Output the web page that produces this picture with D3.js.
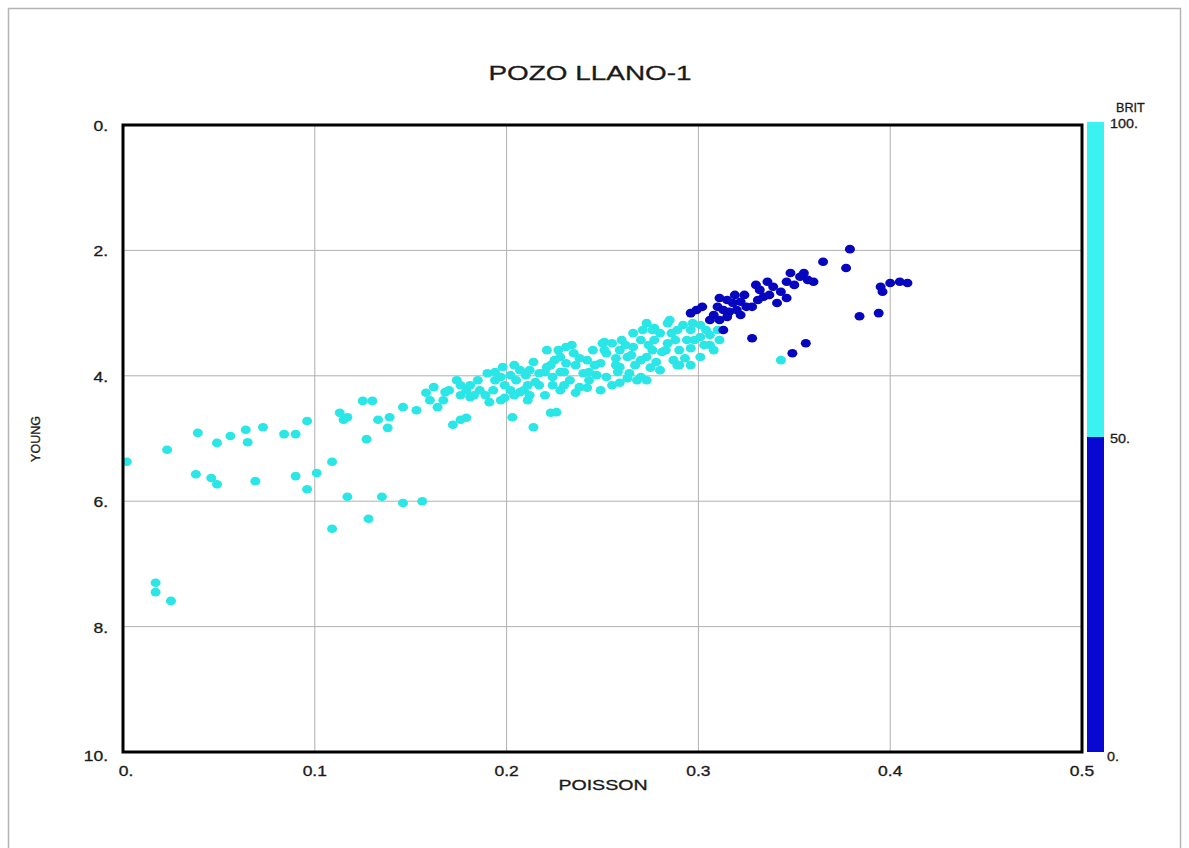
<!DOCTYPE html>
<html><head><meta charset="utf-8">
<script src="https://cdn.jsdelivr.net/npm/d3@7"></script>
<style>body{margin:0;background:#fff;}svg{display:block;font-family:"Liberation Sans",Arial,sans-serif;}</style>
</head><body>
<svg id="c" width="1189" height="848"></svg>
<script>
const title = "POZO LLANO-1";
const xLabel = "POISSON";
const yLabel = "YOUNG";
const colorLabel = "BRIT";
const xTicks = [0, 0.1, 0.2, 0.3, 0.4, 0.5];
const xTickLabels = ["0.", "0.1", "0.2", "0.3", "0.4", "0.5"];
const yTicks = [0, 2, 4, 6, 8, 10];
const yTickLabels = ["0.", "2.", "4.", "6.", "8.", "10."];
const britTicks = [0, 50, 100];
const britTickLabels = ["0.", "50.", "100."];
const britBins = [50];
const britColors = ["#0606bf", "#2ae6e6"];
const barColors = ["#0808d2", "#3af2f2"];

// [POISSON, YOUNG, BRIT]
const highBrit = [
 [0.002,5.37,75],[0.023,5.18,75],[0.039,4.91,75],[0.049,5.07,75],[0.056,4.96,75],[0.064,4.86,75],
 [0.065,5.06,75],[0.073,4.82,75],[0.084,4.93,75],[0.090,4.93,75],[0.096,4.72,75],[0.113,4.59,75],
 [0.115,4.70,75],[0.117,4.66,75],[0.125,4.40,75],[0.130,4.40,75],[0.133,4.70,75],[0.139,4.66,75],
 [0.138,4.83,75],[0.127,5.01,75],[0.038,5.57,75],[0.046,5.63,75],[0.049,5.73,75],[0.069,5.68,75],
 [0.090,5.60,75],[0.101,5.55,75],[0.096,5.81,75],[0.109,5.37,75],[0.117,5.93,75],[0.135,5.93,75],
 [0.146,6.03,75],[0.156,6.00,75],[0.128,6.28,75],[0.109,6.44,75],[0.017,7.30,75],[0.017,7.45,75],
 [0.025,7.59,75],[0.146,4.50,75],[0.153,4.55,75],[0.158,4.27,75],[0.162,4.18,75],[0.167,4.39,75],
 [0.170,4.23,75],[0.174,4.07,75],[0.176,4.70,75],[0.179,4.67,75],[0.172,4.78,75],[0.179,4.23,75],
 [0.185,4.07,75],[0.186,4.23,75],[0.190,3.96,75],[0.193,4.23,75],[0.197,4.02,75],[0.198,3.86,75],
 [0.202,4.23,75],[0.203,4.66,75],[0.205,4.07,75],[0.207,3.91,75],[0.211,4.39,75],[0.209,4.23,75],
 [0.214,4.82,75],[0.214,3.78,75],[0.217,3.96,75],[0.221,3.86,75],[0.224,4.02,75],[0.221,3.59,75],
 [0.223,4.59,75],[0.226,4.58,75],[0.228,3.70,75],[0.231,3.80,75],[0.231,3.54,75],[0.235,3.64,75],
 [0.238,4.18,75],[0.240,3.96,75],[0.242,3.75,75],[0.245,3.59,75],[0.249,4.23,75],[0.249,3.80,75],
 [0.252,3.64,75],[0.255,3.48,75],[0.252,4.02,75],[0.259,3.86,75],[0.263,3.70,75],[0.266,3.54,75],
 [0.266,3.32,75],[0.270,3.43,75],[0.259,4.11,75],[0.264,3.96,75],[0.270,4.02,75],[0.273,4.07,75],
 [0.273,3.70,75],[0.276,3.59,75],[0.273,3.16,75],[0.280,3.32,75],[0.284,3.48,75],[0.284,3.16,75],
 [0.287,3.75,75],[0.289,3.27,75],[0.290,3.59,75],[0.294,3.43,75],[0.297,3.16,75],[0.296,3.00,75],
 [0.301,3.38,75],[0.301,3.70,75],[0.304,3.27,75],[0.308,3.59,75],[0.310,3.27,75],[0.343,3.75,75],
 [0.164,4.50,75],[0.191,4.42,75],[0.197,4.39,75],[0.212,4.31,75],[0.228,4.23,75],[0.233,4.07,75],
 [0.243,3.94,75],[0.257,3.83,75],[0.280,3.91,75],[0.290,3.83,75],[0.296,3.27,75],[0.288,3.43,75],
 [0.277,3.43,75],[0.259,3.59,75],[0.236,3.83,75],[0.225,3.75,75],[0.217,4.15,75],[0.202,3.99,75],
 [0.194,4.07,75],[0.181,4.34,75],[0.204,3.83,75],[0.311,3.43,75],[0.306,3.51,75],[0.251,3.46,75],
 [0.267,3.83,75],[0.301,3.19,75],
 [0.160,4.39,75],[0.168,4.26,75],[0.181,4.15,75],[0.189,4.31,75],[0.199,4.15,75],[0.207,4.26,75],
 [0.210,3.99,75],[0.215,4.10,75],[0.220,4.31,75],[0.223,3.83,75],[0.228,3.94,75],[0.230,4.15,75],
 [0.236,4.27,75],[0.238,3.72,75],[0.243,4.07,75],[0.246,3.83,75],[0.251,3.59,75],[0.255,4.15,75],
 [0.257,3.72,75],[0.262,3.51,75],[0.263,4.04,75],[0.270,3.75,75],[0.271,3.27,75],[0.275,3.87,75],
 [0.277,3.24,75],[0.281,3.62,75],[0.285,3.11,75],[0.293,3.72,75],[0.296,3.56,75],[0.296,3.83,75],
 [0.306,3.35,75],
 [0.220,3.94,75],[0.224,4.15,75],[0.227,3.59,75],[0.230,3.94,75],[0.234,3.51,75],[0.242,4.19,75],
 [0.247,3.99,75],[0.250,3.48,75],[0.258,3.94,75],[0.260,3.43,75],[0.265,3.67,75],[0.268,4.07,75],
 [0.274,3.51,75],[0.276,3.27,75],[0.278,3.78,75],[0.283,3.59,75],[0.286,3.32,75],[0.289,3.83,75],
 [0.292,3.19,75],[0.298,3.43,75],[0.303,3.51,75],[0.212,3.91,75],[0.211,4.15,75],[0.204,4.31,75],
 [0.199,4.35,75],[0.194,3.94,75],[0.183,4.31,75],[0.176,4.31,75],[0.176,4.15,75]
];
const lowBrit = [
 [0.379,1.98,25],[0.365,2.18,25],[0.377,2.28,25],[0.348,2.36,25],[0.355,2.36,25],[0.353,2.42,25],
 [0.357,2.47,25],[0.360,2.50,25],[0.346,2.50,25],[0.336,2.50,25],[0.339,2.58,25],[0.332,2.63,25],
 [0.343,2.66,25],[0.334,2.74,25],[0.346,2.76,25],[0.341,2.84,25],[0.331,2.79,25],[0.328,2.90,25],
 [0.325,2.90,25],[0.322,2.82,25],[0.318,2.84,25],[0.315,2.79,25],[0.311,2.76,25],[0.310,2.90,25],
 [0.316,2.98,25],[0.313,2.95,25],[0.308,3.03,25],[0.311,3.11,25],[0.306,3.11,25],[0.315,3.06,25],
 [0.320,2.95,25],[0.302,2.90,25],[0.299,2.95,25],[0.296,3.00,25],[0.313,3.27,25],[0.328,3.40,25],
 [0.356,3.48,25],[0.349,3.64,25],[0.384,3.05,25],[0.394,3.00,25],[0.395,2.58,25],[0.400,2.52,25],
 [0.405,2.50,25],[0.409,2.52,25],[0.396,2.66,25],
 [0.324,2.71,25],[0.330,2.55,25],[0.337,2.71,25],[0.319,2.71,25],[0.350,2.55,25],[0.322,3.03,25]
];

const svg = d3.select("#c");
const L = 123, R = 1082, T = 125, B = 752;
const x = d3.scaleLinear().domain([0, 0.5]).range([L, R]);
const y = d3.scaleLinear().domain([0, 10]).range([T, B]);
const color = d3.scaleThreshold().domain(britBins).range(britColors);

// stretched text helper (reference text is horizontally widened)
function stext(parent, tx, ty, anchor, size, sx, txt) {
  return parent.append("text")
    .attr("transform", `translate(${tx},${ty}) scale(${sx},1)`)
    .attr("text-anchor", anchor).attr("font-size", size).attr("fill", "#1a1a1a")
    .attr("stroke", "#1a1a1a").attr("stroke-width", 0.3)
    .text(txt);
}

// outer frame
svg.append("rect").attr("x", 8.5).attr("y", 8.5).attr("width", 1172).attr("height", 860)
  .attr("fill", "none").attr("stroke", "#b4b4b4").attr("stroke-width", 1.5);

// title
stext(svg, 590, 80, "middle", 21, 1.33, title);

// grid
const g = svg.append("g");
g.selectAll(".gx").data(xTicks.slice(1, -1)).join("line")
  .attr("x1", d => x(d)).attr("x2", d => x(d)).attr("y1", T).attr("y2", B)
  .attr("stroke", "#b0b0b0").attr("stroke-width", 1);
g.selectAll(".gy").data(yTicks.slice(1, -1)).join("line")
  .attr("y1", d => y(d)).attr("y2", d => y(d)).attr("x1", L).attr("x2", R)
  .attr("stroke", "#b0b0b0").attr("stroke-width", 1);

// points
const pts = highBrit.concat(lowBrit);
svg.append("g").selectAll("ellipse").data(pts).join("ellipse")
  .attr("cx", d => x(d[0])).attr("cy", d => y(d[1]))
  .attr("rx", 5).attr("ry", 4.3)
  .attr("fill", d => color(d[2]));

// frame
svg.append("rect").attr("x", L).attr("y", T).attr("width", R - L).attr("height", B - T)
  .attr("fill", "none").attr("stroke", "#000").attr("stroke-width", 3);

// x tick labels
const xt = svg.append("g");
xTicks.forEach((d, i) => stext(xt, x(d) + (i === 0 ? 3 : 0), 776, "middle", 14, 1.25, xTickLabels[i]));

// y tick labels
const yt = svg.append("g");
yTicks.forEach((d, i) => stext(yt, 108, y(d) + (i === yTicks.length - 1 ? 9 : 6), "end", 14, 1.25, yTickLabels[i]));

// axis titles
stext(svg, 603, 790, "middle", 14, 1.4, xLabel);
svg.append("text").attr("transform", "translate(40,439) rotate(-90)")
  .attr("text-anchor", "middle").attr("font-size", 12.5).attr("fill", "#1a1a1a")
  .attr("stroke", "#1a1a1a").attr("stroke-width", 0.3).text(yLabel);

// colour bar
const cb = d3.scaleLinear().domain([0, 100]).range([B, 122]);
const segs = [[0, 50], [50, 100]];
svg.append("g").selectAll("rect").data(segs).join("rect")
  .attr("x", 1087).attr("width", 17)
  .attr("y", d => cb(d[1])).attr("height", d => cb(d[0]) - cb(d[1]))
  .attr("fill", (d, i) => barColors[i]);
const ct = svg.append("g");
britTicks.forEach((d, i) => stext(ct, i === 0 ? 1107 : 1110, cb(d) + (i === 0 ? 9 : 6), "start", 12.5, 1.15, britTickLabels[i]));
stext(svg, 1116, 112, "start", 12, 1.05, colorLabel);
</script>
</body></html>
